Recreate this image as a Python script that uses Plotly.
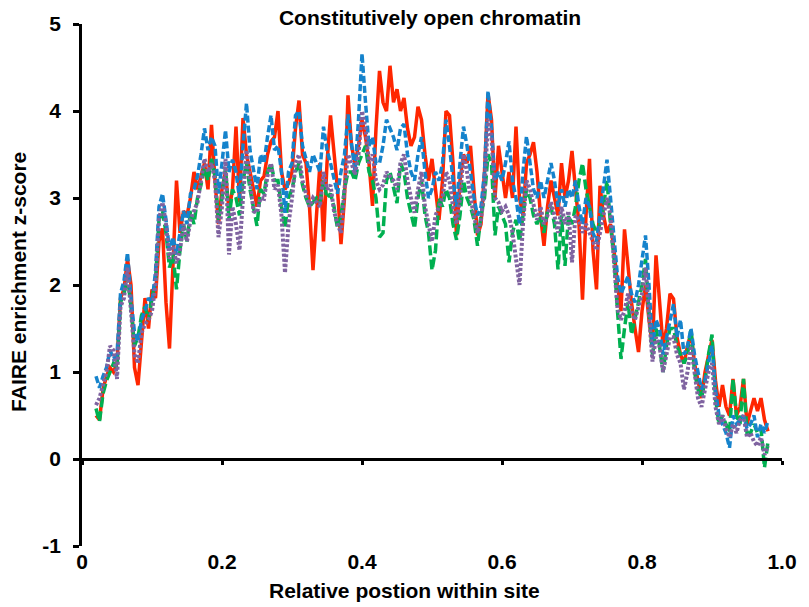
import plotly.graph_objects as go

# Relative position grid (0.02 .. 0.98, step 0.005)
X = [round(0.02 + 0.005 * i, 3) for i in range(193)]

RED = [
    .50, .45, .80, .95, 1.05, 1.00, 1.10, 1.85, 1.95, 2.30,
    2.00, 1.05, .85, 1.30, 1.85, 1.50, 1.95, 1.85, 2.50, 2.65,
    1.80, 1.27, 2.30, 3.20, 2.60, 2.85, 2.80, 3.00, 3.30, 3.10,
    3.25, 3.40, 3.10, 3.84, 3.20, 2.70, 3.10, 3.30, 2.85, 3.10,
    3.82, 2.95, 3.92, 3.50, 3.30, 3.10, 2.90, 3.20, 3.25, 3.50,
    3.65, 3.70, 4.00, 3.30, 3.10, 3.17, 3.30, 3.80, 4.12, 3.50,
    3.40, 2.90, 2.17, 2.80, 3.40, 2.50, 3.40, 3.95, 3.55, 3.10,
    2.47, 3.00, 4.18, 3.60, 3.40, 3.60, 3.90, 3.70, 3.40, 2.91,
    3.80, 4.46, 4.10, 4.00, 4.52, 4.10, 4.25, 4.00, 4.15, 3.80,
    3.60, 3.70, 4.05, 3.90, 3.50, 3.20, 3.45, 3.10, 2.75, 3.20,
    4.00, 3.95, 3.40, 2.57, 3.20, 3.50, 3.40, 3.60, 3.10, 2.57,
    2.70, 3.30, 4.20, 3.90, 3.00, 3.60, 3.30, 3.00, 3.30, 3.00,
    3.82, 3.00, 2.80, 3.40, 3.50, 3.64, 3.30, 2.80, 2.45, 2.90,
    3.20, 3.00, 2.80, 3.40, 3.00, 3.20, 3.54, 3.10, 2.70, 1.83,
    2.80, 3.45, 2.40, 1.95, 3.14, 2.80, 2.60, 2.70, 2.40, 2.00,
    1.70, 2.64, 2.20, 1.80, 1.50, 1.23, 1.70, 2.00, 1.60, 1.30,
    2.34, 1.80, 1.30, 1.50, 1.90, 1.84, 1.40, 1.20, 1.10, 1.30,
    1.45, 1.10, .90, .70, 1.00, 1.20, 1.37, .90, .60, .85,
    .60, .50, .92, .50, .60, .92, .40, .55, .70, .55,
    .70, .45, .32,
]

GREEN = [
    .58, .43, .75, .90, 1.00, 1.10, 1.05, 1.80, 1.90, 2.10,
    1.75, 1.30, 1.40, 1.65, 1.75, 1.60, 1.85, 2.05, 2.75, 2.85,
    2.60, 2.20, 2.35, 1.95, 2.40, 2.70, 2.50, 2.85, 2.70, 3.00,
    3.15, 3.35, 3.20, 3.45, 3.25, 2.75, 3.00, 3.35, 2.75, 3.10,
    3.00, 2.80, 3.20, 3.40, 3.10, 2.90, 2.68, 3.10, 3.05, 3.30,
    3.40, 3.20, 3.20, 2.90, 2.65, 3.00, 3.10, 3.30, 3.40, 3.15,
    3.00, 2.90, 2.95, 3.00, 2.95, 3.20, 3.00, 3.05, 2.90, 2.65,
    2.80, 3.10, 3.30, 3.30, 3.20, 3.40, 3.50, 3.60, 3.30, 3.20,
    3.00, 2.55, 2.60, 3.20, 3.30, 3.10, 2.94, 3.40, 3.30, 3.00,
    2.80, 2.65, 3.00, 3.20, 2.80, 2.60, 2.17, 2.40, 3.00, 2.90,
    3.10, 3.00, 2.70, 2.52, 2.80, 3.20, 3.00, 2.90, 2.75, 2.45,
    2.80, 3.00, 3.50, 3.40, 2.57, 2.90, 2.80, 2.70, 2.26, 2.60,
    2.75, 2.50, 2.80, 3.10, 3.00, 2.80, 2.70, 2.80, 2.60, 2.85,
    2.90, 2.70, 2.18, 2.80, 2.22, 2.80, 2.70, 2.90, 3.20, 3.40,
    3.10, 2.90, 2.70, 2.60, 2.70, 2.90, 3.20, 2.70, 2.30, 1.70,
    1.15, 1.50, 1.80, 1.43, 1.60, 1.80, 2.00, 2.30, 1.70, 1.20,
    1.50, 1.30, 1.00, 1.30, 1.50, 1.50, 1.30, 1.20, 1.10, 1.20,
    1.50, 1.00, .80, .70, .90, 1.20, 1.43, .70, .40, .50,
    .40, .30, .92, .50, .40, .92, .30, .30, .40, .30,
    .35, -.10, .20,
]

BLUE = [
    .95, .82, .95, 1.05, 1.25, 1.15, 1.20, 1.90, 2.05, 2.37,
    1.85, 1.45, 1.35, 1.60, 1.70, 1.85, 1.80, 2.15, 2.90, 3.05,
    2.75, 2.40, 2.55, 2.35, 2.60, 2.85, 2.70, 3.05, 3.10, 3.25,
    3.50, 3.80, 3.55, 3.70, 3.60, 3.05, 3.40, 3.78, 3.30, 3.44,
    3.30, 3.00, 3.60, 4.09, 3.55, 3.30, 3.10, 3.50, 3.40, 3.70,
    3.95, 3.55, 3.60, 3.30, 2.83, 3.30, 3.40, 3.95, 4.00, 3.60,
    3.45, 3.30, 3.50, 3.40, 3.30, 3.82, 3.55, 3.40, 3.20, 3.05,
    3.30, 3.50, 3.96, 3.60, 3.30, 3.90, 4.66, 4.10, 3.60, 3.70,
    3.40, 3.40, 3.60, 3.90, 3.80, 3.70, 3.55, 3.80, 3.85, 3.50,
    3.30, 3.20, 3.50, 3.70, 3.30, 3.00, 3.10, 3.30, 3.20, 3.40,
    3.90, 3.60, 3.20, 2.90, 3.40, 3.82, 3.60, 3.30, 3.00, 2.80,
    2.90, 3.30, 4.23, 3.80, 3.20, 3.30, 3.20, 3.40, 3.65, 3.20,
    3.00, 2.70, 3.30, 3.71, 3.40, 3.10, 3.00, 3.20, 3.00, 3.20,
    3.40, 3.20, 2.90, 3.10, 2.90, 3.10, 3.00, 3.20, 2.90, 2.70,
    3.00, 2.90, 2.60, 2.50, 2.80, 3.10, 3.44, 3.00, 2.50, 2.10,
    1.90, 2.00, 2.10, 1.90, 1.80, 2.00, 2.30, 2.57, 2.00, 1.30,
    1.60, 1.50, 1.20, 1.40, 1.60, 1.78, 1.40, 1.60, 1.20, 1.30,
    1.50, 1.20, 1.00, .80, .90, 1.10, 1.30, .80, .50, .40,
    .30, .13, .50, .40, .45, .50, .35, .40, .50, .25,
    .40, .30, .44,
]

PURPLE = [
    .62, .70, .85, 1.00, 1.30, 1.25, .92, 1.75, 1.85, 2.20,
    1.70, 1.20, 1.10, 1.45, 1.55, 1.60, 1.70, 2.00, 2.75, 2.95,
    2.70, 2.30, 2.45, 2.25, 2.40, 2.70, 2.50, 2.75, 2.85, 2.95,
    3.20, 3.45, 3.30, 3.40, 3.20, 2.55, 2.90, 3.45, 2.35, 2.90,
    2.70, 2.40, 3.00, 3.55, 3.20, 2.85, 2.83, 3.00, 2.99, 3.25,
    3.40, 3.10, 3.15, 2.80, 2.14, 2.70, 3.00, 3.40, 3.50, 3.20,
    3.05, 2.90, 3.00, 2.95, 2.90, 3.30, 3.10, 3.15, 2.85, 2.70,
    2.60, 3.10, 3.50, 3.40, 3.27, 3.50, 4.00, 3.80, 3.40, 3.50,
    3.20, 3.10, 3.15, 3.30, 3.25, 3.20, 3.10, 3.40, 3.50, 3.20,
    3.00, 2.83, 3.10, 3.30, 2.90, 2.70, 2.50, 2.80, 2.90, 3.00,
    3.30, 3.20, 2.90, 2.70, 3.00, 3.50, 3.30, 3.00, 2.80, 2.60,
    2.75, 3.10, 3.90, 3.70, 3.00, 2.95, 2.85, 2.90, 2.80, 2.60,
    2.30, 2.00, 2.70, 3.20, 3.10, 2.90, 2.75, 2.90, 2.70, 2.80,
    2.95, 2.80, 2.60, 2.90, 2.70, 2.85, 2.26, 2.80, 2.75, 2.60,
    2.70, 2.60, 2.50, 2.40, 2.60, 2.80, 3.00, 2.80, 2.20, 1.73,
    1.60, 1.70, 1.90, 1.70, 1.60, 1.75, 1.90, 2.20, 1.60, 1.12,
    1.40, 1.30, 1.00, 1.20, 1.40, 1.40, 1.20, 1.10, .80, 1.00,
    1.30, 1.00, .70, .60, .80, 1.00, 1.10, .60, .40, .50,
    .35, .25, .40, .30, .45, .50, .25, .30, .20, .15,
    .25, .05, .15,
]

X_TICKS = [0, 0.2, 0.4, 0.6, 0.8, 1.0]
X_TICK_TEXT = ["0", "0.2", "0.4", "0.6", "0.8", "1.0"]
Y_TICKS = [-1, 0, 1, 2, 3, 4, 5]
Y_TICK_TEXT = ["-1", "0", "1", "2", "3", "4", "5"]

FONT = "Liberation Sans, Arial, sans-serif"

fig = go.Figure()
series = [
    ("red", RED, "#FF2600", "solid", 3.5),
    ("green", GREEN, "#00B050", "10px,4px", 3.5),
    ("blue", BLUE, "#1583CC", "7px,3px", 3.5),
    ("purple", PURPLE, "#7F63A0", "3px,2px", 4),
]
for name, vals, col, dash, w in series:
    fig.add_trace(go.Scatter(x=X, y=vals, mode="lines", name=name,
                             line=dict(color=col, width=w, dash=dash)))

fig.update_layout(
    width=809, height=607,
    margin=dict(l=82, r=17, t=20, b=61),
    paper_bgcolor="white", plot_bgcolor="white",
    showlegend=False,
    font=dict(family=FONT, color="black", weight="bold"),
    title=dict(text="Constitutively open chromatin",
               font=dict(family=FONT, size=21, color="black", weight="bold"),
               x=430 / 809, xanchor="center", xref="container",
               y=1 - 18 / 607, yanchor="middle", yref="container"),
)

fig.update_xaxes(
    range=[0, 1], anchor="free", position=1 / 6,
    tickvals=X_TICKS, ticktext=X_TICK_TEXT,
    ticks="outside", ticklen=4, tickwidth=2.5, tickcolor="black",
    showline=True, linewidth=2.5, linecolor="black",
    showgrid=False, zeroline=False,
    tickfont=dict(family=FONT, size=21, color="black", weight="bold"),
    ticklabelstandoff=79,
)
fig.update_yaxes(
    range=[-1, 5], tickvals=Y_TICKS, ticktext=Y_TICK_TEXT,
    ticks="outside", ticklen=6, tickwidth=2.5, tickcolor="black",
    showline=True, linewidth=2.5, linecolor="black",
    showgrid=False, zeroline=False,
    tickfont=dict(family=FONT, size=21, color="black", weight="bold"),
    ticklabelstandoff=8,
)

fig.add_annotation(text="Relative postion within site", xref="paper", yref="paper",
                   x=(409 - 82) / 710, y=(546 - 591) / 526, xanchor="center", yanchor="middle",
                   showarrow=False,
                   font=dict(family=FONT, size=21, color="black", weight="bold"))
fig.add_annotation(text="FAIRE enrichment z-score", xref="paper", yref="paper",
                   x=(17 - 82) / 710, y=(546 - 280) / 526, xanchor="center", yanchor="middle",
                   textangle=-90, showarrow=False,
                   font=dict(family=FONT, size=21, color="black", weight="bold"))

fig.write_html("out.html")
